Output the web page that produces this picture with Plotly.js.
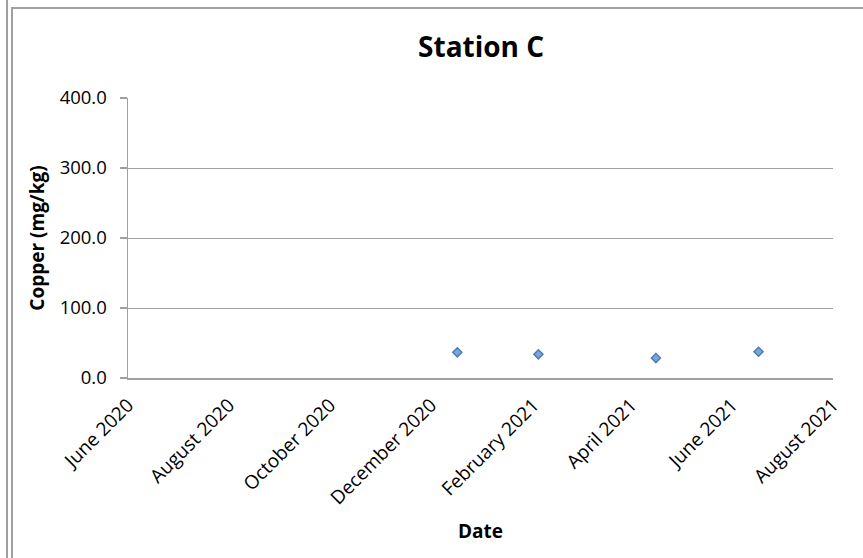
<!DOCTYPE html>
<html>
<head>
<meta charset="utf-8">
<script src="https://cdn.plot.ly/plotly-3.0.1.min.js"></script>
<style>
  html, body { margin: 0; padding: 0; background: #fff; }
  #wrap { position: relative; width: 863px; height: 558px; overflow: hidden; }
  #chart { position: absolute; left: 0; top: 0; width: 863px; height: 558px; }
  .bl { position: absolute; background: #a0a0a0; }
</style>
</head>
<body>
<div id="wrap">
  <div id="chart"></div>
  <div class="bl" style="left:6px; top:0; width:2px; height:558px;"></div>
  <div class="bl" style="left:11px; top:7px; width:2px; height:551px;"></div>
  <div class="bl" style="left:11px; top:7px; width:852px; height:2px;"></div>
</div>
<script>
// Data
const sampleDates = ['2020-12-17', '2021-02-04', '2021-04-16', '2021-06-17'];
const copperValues = [36.7, 33.8, 28.5, 37.5];

const chartTitle = 'Station C';
const xTitle = 'Date';
const yTitle = 'Copper (mg/kg)';
const xRange = ['2020-06-01', '2021-08-01'];
const yRange = [0, 400];

const font = 'Open Sans, Lato, sans-serif';

const trace = {
  x: sampleDates,
  y: copperValues,
  type: 'scatter',
  mode: 'markers',
  marker: {
    symbol: 'diamond',
    size: 7,
    color: '#7fa3d2',
    line: { color: '#4a7ebb', width: 1.5 }
  },
  hoverinfo: 'x+y'
};

const layout = {
  width: 863,
  height: 558,
  margin: { l: 128, r: 30, t: 98, b: 180 },
  paper_bgcolor: '#ffffff',
  plot_bgcolor: '#ffffff',
  showlegend: false,
  title: {
    text: chartTitle,
    font: { family: font, size: 28, color: '#000', weight: 'bold' },
    x: 0.5575, xanchor: 'center',
    y: 0.915, yanchor: 'middle'
  },
  xaxis: {
    type: 'date',
    range: xRange,
    tick0: '2020-06-01',
    dtick: 'M2',
    tickformat: '%B %Y',
    tickangle: -45,
    ticks: '',
    ticklabelstandoff: 7,
    showgrid: false,
    showline: true,
    linecolor: '#a0a0a0',
    linewidth: 1.5,
    zeroline: false,
    tickfont: { family: font, size: 19, color: '#000' },
    title: {
      text: xTitle,
      font: { family: font, size: 19, color: '#000', weight: 'bold' },
      standoff: 16
    },
    automargin: false
  },
  yaxis: {
    range: yRange,
    dtick: 100,
    tickformat: '.1f',
    ticks: 'outside',
    ticklen: 7,
    tickwidth: 1.5,
    tickcolor: '#a0a0a0',
    ticklabelstandoff: 9,
    showgrid: true,
    gridcolor: '#a0a0a0',
    gridwidth: 1,
    showline: true,
    linecolor: '#a0a0a0',
    linewidth: 1.5,
    zeroline: false,
    tickfont: { family: font, size: 18.5, color: '#000' },
    title: {
      text: yTitle,
      font: { family: font, size: 19, color: '#000', weight: 'bold' },
      standoff: 10
    },
    automargin: false
  }
};

Plotly.newPlot('chart', [trace], layout, { displayModeBar: false, staticPlot: true });
</script>
</body>
</html>
